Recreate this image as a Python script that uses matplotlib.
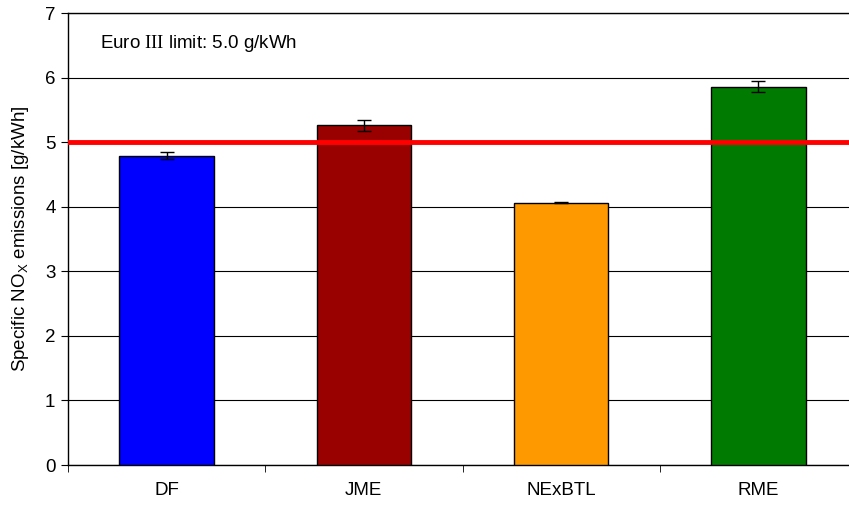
#!/usr/bin/env python3
import matplotlib

matplotlib.use("Agg")
import matplotlib.pyplot as plt
import numpy as np

fuels = ["DF", "JME", "NExBTL", "RME"]
nox = [4.79, 5.26, 4.06, 5.86]
nox_err = [0.05, 0.08, 0.01, 0.08]
colors = ["#0000FF", "#990000", "#FF9900", "#007A00"]
euro3_limit = 5.0

plt.rcParams["font.family"] = ["Liberation Sans", "DejaVu Sans"]
plt.rcParams["mathtext.fontset"] = "custom"
plt.rcParams["mathtext.rm"] = "Liberation Serif"
plt.rcParams["mathtext.sf"] = "Liberation Sans"

fig = plt.figure(figsize=(8.49, 5.05), dpi=100)
ax = fig.add_axes([68 / 849, 40 / 505, 789 / 849, 452 / 505])

x = np.arange(len(fuels))
ax.bar(x, nox, width=0.48, color=colors, edgecolor="black", linewidth=1.0, zorder=3)
ax.errorbar(x, nox, yerr=nox_err, fmt="none", ecolor="black", elinewidth=1.0,
            capsize=5, capthick=1.0, zorder=4)
ax.axhline(euro3_limit, color="#FF0000", linewidth=3.5, zorder=5)

ax.set_xlim(-0.5, len(fuels) - 0.5)
ax.set_ylim(0, 7)
ax.set_yticks(range(0, 8))
ax.yaxis.grid(True, color="black", linewidth=0.8)
ax.set_axisbelow(True)

fs = 13.5
ax.set_xticks(x)
ax.set_xticklabels(fuels, fontsize=fs)
ax.set_xticks(np.arange(-0.5, len(fuels)), minor=True)
ax.tick_params(axis="x", which="major", length=0, pad=12)
ax.tick_params(axis="x", which="minor", length=5, direction="out")
ax.tick_params(axis="y", labelsize=fs, length=5, direction="out", pad=4)

ax.set_ylabel(r"Specific NO$_\mathsf{X}$ emissions [g/kWh]", fontsize=fs, labelpad=10)
ax.text(0.04, 0.955, r"Euro $\mathrm{III}$ limit: 5.0 g/kWh", transform=ax.transAxes,
        fontsize=fs, va="top", ha="left")

for side in ["left", "right", "top", "bottom"]:
    ax.spines[side].set_color("black")
    ax.spines[side].set_linewidth(1.0)

fig.savefig("out.png", dpi=100)
